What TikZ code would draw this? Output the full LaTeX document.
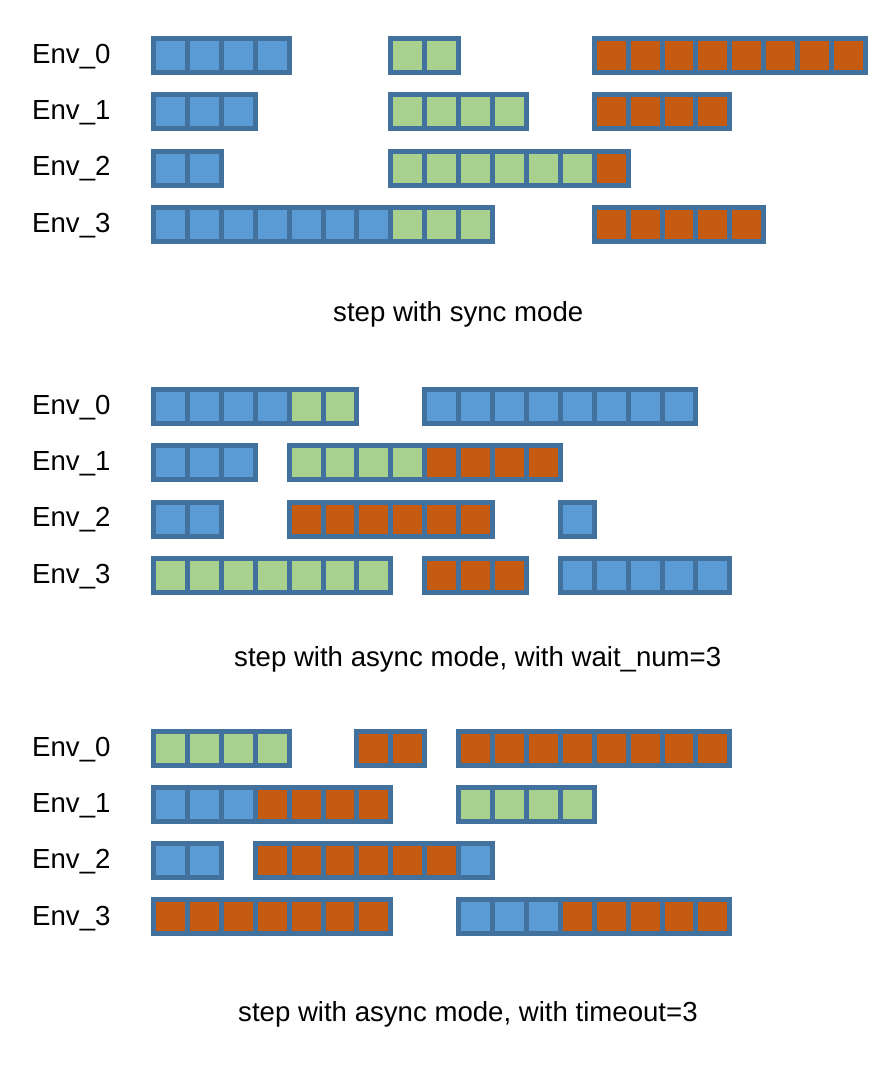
\documentclass[tikz,border=0pt]{standalone}
\usepackage{fontspec}
\setmainfont{Liberation Sans}
\definecolor{edge}{HTML}{41719C}
\definecolor{bl}{HTML}{5B9BD5}
\definecolor{gr}{HTML}{A9D18E}
\definecolor{or}{HTML}{C55A11}
\tikzset{
  cell/.style={draw=edge,line width=5pt},
  envlabel/.style={anchor=base west,inner sep=0pt,font=\fontsize{27.6}{30}\selectfont},
  caption/.style={anchor=base west,inner sep=0pt,font=\fontsize{27.6}{30}\selectfont}
}
\newcommand{\envrow}[3]{%
  \foreach \c [count=\i from #2] in {#3}
    \draw[cell,fill=\c] ({153.5+33.9*\i},{#1+2.5}) rectangle ++(33.9,34);}
\newcommand{\envlabels}[2]{%
  \node[envlabel] (#2e0) at (32,{#1+27.3}) {Env\_0};
  \node[envlabel] (#2e1) at (32,{#1+83.5}) {Env\_1};
  \node[envlabel] (#2e2) at (32,{#1+139.8}) {Env\_2};
  \node[envlabel] (#2e3) at (32,{#1+196.2}) {Env\_3};}
\begin{document}
\begin{tikzpicture}[x=1pt,y=-1pt]
		\useasboundingbox[fill=white] (0,0) rectangle (895,1080);
		\envlabels{36}{sync}
		\envrow{36}{0}{bl,bl,bl,bl} \envrow{36}{7}{gr,gr} \envrow{36}{13}{or,or,or,or,or,or,or,or}
		\envrow{92}{0}{bl,bl,bl} \envrow{92}{7}{gr,gr,gr,gr} \envrow{92}{13}{or,or,or,or}
		\envrow{148.5}{0}{bl,bl} \envrow{148.5}{7}{gr,gr,gr,gr,gr,gr,or}
		\envrow{205}{0}{bl,bl,bl,bl,bl,bl,bl,gr,gr,gr} \envrow{205}{13}{or,or,or,or,or}
		\node[caption] (capsync) at (333,321.7) {step with sync mode};
		\envlabels{387}{wait}
		\envrow{387}{0}{bl,bl,bl,bl,gr,gr} \envrow{387}{8}{bl,bl,bl,bl,bl,bl,bl,bl}
		\envrow{443}{0}{bl,bl,bl} \envrow{443}{4}{gr,gr,gr,gr,or,or,or,or}
		\envrow{499.5}{0}{bl,bl} \envrow{499.5}{4}{or,or,or,or,or,or} \envrow{499.5}{12}{bl}
		\envrow{556}{0}{gr,gr,gr,gr,gr,gr,gr} \envrow{556}{8}{or,or,or} \envrow{556}{12}{bl,bl,bl,bl,bl}
		\node[caption] (capwait) at (234,666.7) {step with async mode, with wait\_num=3};
		\envlabels{729}{time}
		\envrow{729}{0}{gr,gr,gr,gr} \envrow{729}{6}{or,or} \envrow{729}{9}{or,or,or,or,or,or,or,or}
		\envrow{784.5}{0}{bl,bl,bl,or,or,or,or} \envrow{784.5}{9}{gr,gr,gr,gr}
		\envrow{841}{0}{bl,bl} \envrow{841}{3}{or,or,or,or,or,or,bl}
		\envrow{897}{0}{or,or,or,or,or,or,or} \envrow{897}{9}{bl,bl,bl,or,or,or,or,or}
		\node[caption] (captime) at (238,1021.7) {step with async mode, with timeout=3};
\end{tikzpicture}
\end{document}
